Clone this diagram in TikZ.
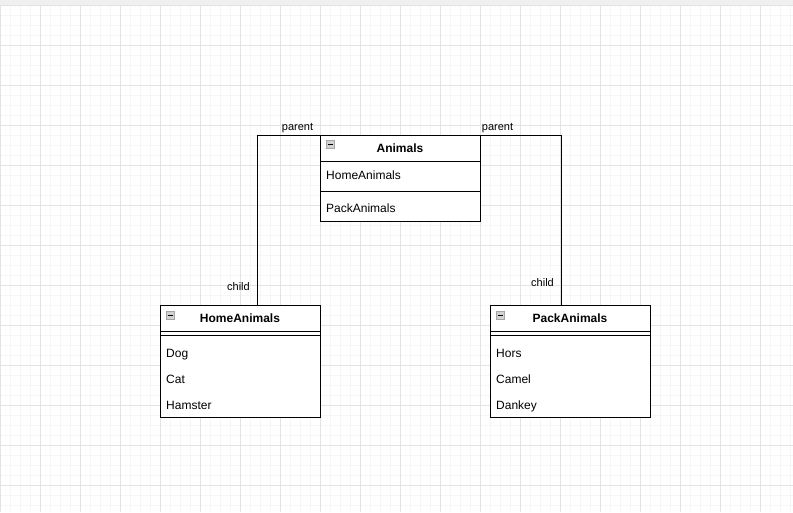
\documentclass[tikz,border=0pt]{standalone}
\usepackage{fontspec}
\setmainfont{Liberation Sans}
\usetikzlibrary{positioning}
\tikzset{minorgrid/.style={line width=1pt,color=gray!7}}
\tikzset{majorgrid/.style={line width=1pt,color=gray!22}}
\tikzset{classhead/.style={draw,line width=1pt,outer sep=0pt,minimum width=160pt,minimum height=26pt,
  inner sep=0pt,font=\fontsize{12}{14}\selectfont\bfseries}}
\tikzset{classbody/.style={draw,line width=1pt,outer sep=0pt,minimum width=160pt,inner sep=0pt}}
\tikzset{item/.style={anchor=base west,inner sep=0pt,font=\fontsize{12}{14}\selectfont}}
\tikzset{foldicon/.style={draw=gray!70,fill=gray!35,minimum size=8pt,inner sep=0pt,outer sep=0pt,anchor=north west}}
\tikzset{rolelabel/.style={anchor=base,inner sep=0pt,font=\fontsize{11}{13}\selectfont}}
\tikzset{assoc/.style={line width=1pt}}

\begin{document}
\begin{tikzpicture}[x=1pt,y=-1pt]
  \useasboundingbox (0,0) rectangle (793,512);
  \fill[white] (0,0) rectangle (793,512);
  \fill[gray!12] (0,0) rectangle (793,4.5);

  % grid
  \foreach \x in {10,20,...,790} \draw[minorgrid] (\x,5) -- (\x,512);
  \foreach \y in {15,25,...,505} \draw[minorgrid] (0,\y) -- (793,\y);
  \foreach \x in {0,40,...,760} \draw[majorgrid] (\x,5) -- (\x,512);
  \foreach \y in {5,45,...,485} \draw[majorgrid] (0,\y) -- (793,\y);

  % Animals
  \node[classhead,fill=white] (animals) at (400,148) {Animals};
  \node[classbody,fill=white,minimum height=30pt,anchor=north] (animalsR1) at (animals.south) {};
  \node[classbody,fill=white,minimum height=30pt,anchor=north] (animalsR2) at (animalsR1.south) {};
  \node[item] (homeref) at (326,179.3) {HomeAnimals};
  \node[item] (packref) at (326,212.3) {PackAnimals};
  \node[foldicon] (animalsI) at ([xshift=6pt,yshift=-5pt]animals.north west) {};
  \draw[line width=1pt] ([xshift=1.5pt]animalsI.west) -- ([xshift=-1.5pt]animalsI.east);

  % HomeAnimals
  \node[classhead,fill=white] (home) at (240,318) {HomeAnimals};
  \node[classbody,fill=white,minimum height=4pt,anchor=north] (homeS) at (home.south) {};
  \node[classbody,fill=white,minimum height=82pt,anchor=north] (homeB) at (homeS.south) {};
  \node[item] (dog)     at (166,357) {Dog};
  \node[item] (cat)     at (166,383) {Cat};
  \node[item] (hamster) at (166,409) {Hamster};
  \node[foldicon] (homeI) at ([xshift=6pt,yshift=-6pt]home.north west) {};
  \draw[line width=1pt] ([xshift=1.5pt]homeI.west) -- ([xshift=-1.5pt]homeI.east);

  % PackAnimals
  \node[classhead,fill=white] (pack) at (570,318) {PackAnimals};
  \node[classbody,fill=white,minimum height=4pt,anchor=north] (packS) at (pack.south) {};
  \node[classbody,fill=white,minimum height=82pt,anchor=north] (packB) at (packS.south) {};
  \node[item] (hors)   at (496,357) {Hors};
  \node[item] (camel)  at (496,383) {Camel};
  \node[item] (dankey) at (496,409) {Dankey};
  \node[foldicon] (packI) at ([xshift=6pt,yshift=-6pt]pack.north west) {};
  \draw[line width=1pt] ([xshift=1.5pt]packI.west) -- ([xshift=-1.5pt]packI.east);

  % links
  \coordinate (hc) at (257,305);
  \coordinate (pc) at (561,305);
  \draw[assoc] (animals.north west) -| (hc);
  \draw[assoc] (animals.north east) -| (pc);

  \node[rolelabel] (parentL) at (297.5,130.7) {parent};
  \node[rolelabel] (parentR) at (497.5,130.7) {parent};
  \node[rolelabel] (childL)  at (238.5,290.7) {child};
  \node[rolelabel] (childR)  at (542.5,286.7) {child};
\end{tikzpicture}
\end{document}
